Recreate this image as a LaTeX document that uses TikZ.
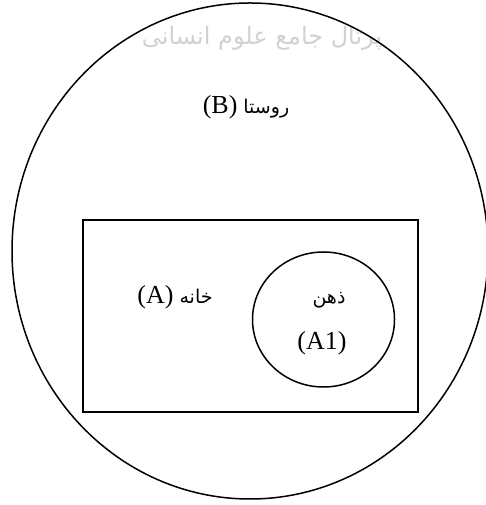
\documentclass[tikz,border=0pt]{standalone}
\usepackage{fontspec}
\setmainfont{Liberation Serif}
\newfontfamily\arabicfont[Script=Arabic]{DejaVu Sans}
\TeXXeTstate=1
\usetikzlibrary{shapes.geometric}
\begin{document}
\begin{tikzpicture}[x=1pt,y=1pt,
  outline/.style={draw=black, line width=1.5pt, inner sep=0pt, outer sep=0pt},
  lat/.style={font=\fontsize{26}{30}\selectfont},
  ar/.style={font=\arabicfont\fontsize{19}{22}\selectfont},
  lbl/.style={inner sep=0pt, anchor=center}]
\useasboundingbox (0,0) rectangle (485,505);
% faint watermark
\node[lbl, text=black!18, font=\arabicfont\fontsize{24}{28}\selectfont] (mark) at (262,467) {\beginR پرتال جامع علوم انسانی\endR};
% village
\node[outline, ellipse, minimum width=476pt, minimum height=496pt] (B) at (250,254) {};
% house
\node[outline, rectangle, minimum width=335pt, minimum height=192pt] (A) at (250.5,189) {};
% mind
\node[outline, ellipse, minimum width=142pt, minimum height=135pt] (A1) at (323.5,185.5) {};
% labels
\node[lbl] (Blbl) at (246,398) {{\fontsize{26}{30}\selectfont (B)}\hspace{6pt}{\arabicfont\fontsize{19}{22}\selectfont\beginR روستا\endR}};
\node[lbl] (Albl) at (175,208) {{\fontsize{26}{30}\selectfont (A)}\hspace{6pt}{\arabicfont\fontsize{19}{22}\selectfont\beginR خانه\endR}};
\node[lbl, ar] (A1ar) at (329,205) {\beginR ذهن\endR};
\node[lbl, lat] (A1lat) at (322,162) {(A1)};
\end{tikzpicture}
\end{document}
